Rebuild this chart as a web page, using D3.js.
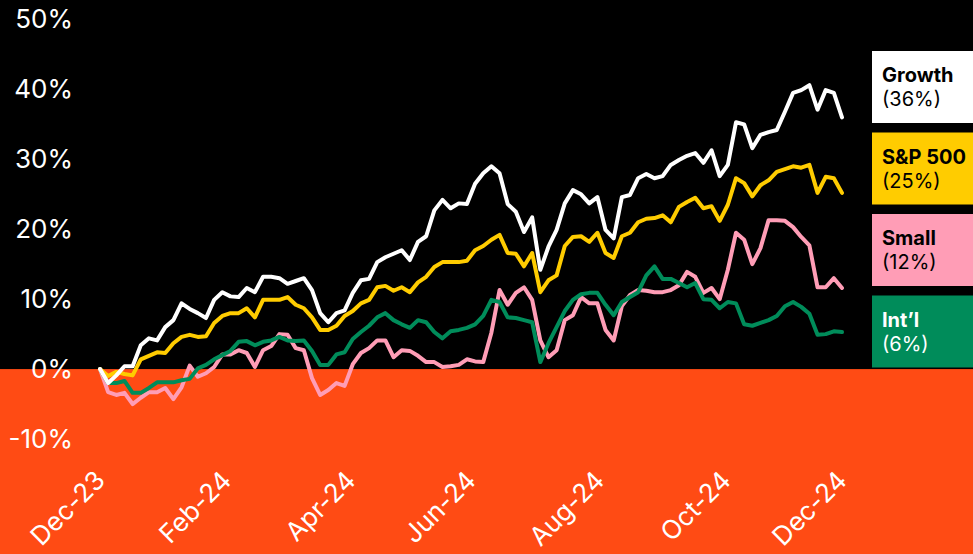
<!DOCTYPE html>
<html>
<head>
<meta charset="utf-8">
<script src="https://cdn.jsdelivr.net/npm/d3@7"></script>
<style>
  html, body { margin: 0; padding: 0; background: #000; }
  svg { display: block; }
  text { font-family: Inter, "Noto Sans", sans-serif; }
</style>
</head>
<body>
<svg id="chart"></svg>
<script>
// cumulative return, % since end of Dec-23, one reading every 4 calendar days
var startDate = new Date(2023, 11, 29);
var stepDays = 4;

var growth = [0,-2.0,-0.9,0.4,0.4,3.4,4.4,4.1,6.0,7.0,9.4,8.6,8.0,7.3,9.9,11.0,10.4,10.3,11.6,11.0,
  13.2,13.2,13.0,12.2,12.6,13.0,11.3,8.0,6.7,8.0,8.4,10.9,12.7,12.9,15.3,16.0,16.5,17.0,15.6,18.2,
  19.0,22.7,24.2,23.0,23.7,23.6,26.5,28.0,29.0,28.0,23.6,22.5,19.6,21.7,14.2,17.5,19.9,23.7,25.6,25.0,
  23.7,24.6,19.9,18.7,24.6,24.9,27.3,27.9,27.3,27.6,29.2,29.9,30.5,30.9,29.5,31.3,27.6,29.2,35.3,35.0,
  31.6,33.5,33.9,34.2,36.8,39.5,39.9,40.6,37.1,39.9,39.5,36.0];

var sp500 = [0,-1.0,-0.4,-0.7,-0.9,1.4,1.9,2.4,2.3,3.7,4.6,4.9,4.6,4.7,6.6,7.6,8.0,8.0,8.7,7.4,
  9.9,9.9,9.9,10.3,9.2,8.7,7.4,5.6,5.6,6.2,7.6,8.3,9.4,9.9,11.7,11.9,11.2,11.7,11.0,12.4,
  13.2,14.6,15.3,15.3,15.3,15.5,17.0,17.6,18.5,19.2,16.6,16.5,14.7,16.6,11.0,12.7,13.4,17.6,18.9,19.0,
  18.2,19.5,16.6,15.9,19.0,19.5,21.0,21.5,21.6,22.0,21.0,23.2,23.9,24.5,23.0,23.3,21.2,23.5,27.3,26.6,
  24.7,26.3,27.0,28.2,28.6,29.0,28.8,29.2,25.2,27.5,27.3,25.2];

var small = [0,-3.3,-3.7,-3.4,-5.0,-4.1,-3.3,-3.3,-2.7,-4.3,-2.6,0.5,-1.1,-0.6,0.3,2.1,2.1,2.7,2.3,0.3,
  2.7,3.3,5.0,4.9,3.0,2.7,-1.3,-3.7,-3.0,-2.0,-2.4,0.7,2.3,3.0,4.1,4.1,1.7,2.7,2.6,1.9,
  1.0,1.0,0.3,0.4,0.6,1.4,1.1,1.0,5.2,11.3,9.2,10.9,11.7,9.9,4.1,1.7,2.7,7.0,7.7,10.3,
  9.4,9.4,5.6,4.1,9.0,10.6,11.3,11.2,11.0,11.0,11.3,12.0,13.9,13.2,10.9,11.6,10.0,14.2,19.5,18.5,
  15.0,17.3,21.3,21.3,21.2,20.3,18.9,17.7,11.7,11.7,13.0,11.6];

var intl = [0,-2.0,-2.0,-1.7,-3.4,-3.4,-2.7,-1.9,-1.9,-1.9,-1.6,-1.4,0.1,0.6,1.4,2.0,2.6,3.9,4.0,3.4,
  3.9,4.1,4.6,4.1,4.0,4.1,2.6,0.6,0.6,2.1,2.4,4.3,5.3,6.2,7.4,8.0,7.0,6.4,5.9,7.0,
  6.7,5.3,4.4,5.4,5.6,5.9,6.4,7.6,9.9,9.6,7.4,7.3,7.0,6.7,1.0,3.7,6.0,8.3,9.9,10.7,
  10.9,10.9,9.2,7.7,9.6,10.3,11.0,13.4,14.7,12.9,12.9,12.3,11.7,12.3,10.0,9.9,8.7,9.6,9.4,6.4,
  6.2,6.6,7.0,7.6,9.0,9.6,8.9,7.9,4.9,5.0,5.4,5.3];

var seriesNames = ["Growth", "S&P 500", "Small", "Int\u2019l"];
var seriesLabels = ["(36%)", "(25%)", "(12%)", "(6%)"];
var seriesColors = ["#ffffff", "#ffcc00", "#ff9db6", "#008c5a"];
var labelColors = ["#000000", "#000000", "#000000", "#ffffff"];

var yTicks = [-10, 0, 10, 20, 30, 40, 50];
var xTickDates = ["2023-12-29", "2024-02-29", "2024-04-30", "2024-06-28", "2024-08-30", "2024-10-31", "2024-12-27"];

var width = 973, height = 554;
var orange = "#ff4b14";

var svg = d3.select("#chart").attr("width", width).attr("height", height);

var dates = growth.map(function(d, i) { return d3.timeDay.offset(startDate, i * stepDays); });

var x = d3.scaleTime()
    .domain([dates[0], dates[dates.length - 1]])
    .range([100, 842]);

var y = d3.scaleLinear()
    .domain([-10, 50])
    .range([439, 19.5]);

// background: black above zero, orange below
svg.append("rect")
    .attr("width", width).attr("height", height)
    .attr("fill", "#000");
svg.append("rect")
    .attr("x", 0).attr("y", y(0))
    .attr("width", width).attr("height", height - y(0))
    .attr("fill", orange);

// y axis
var yAxis = svg.append("g")
    .attr("transform", "translate(73,0)")
    .call(d3.axisLeft(y).tickValues(yTicks).tickSize(0).tickPadding(0)
      .tickFormat(function(d) { return d + "%"; }));
yAxis.select(".domain").remove();
yAxis.selectAll("text")
    .attr("fill", "#fff")
    .style("font-size", "26px");

// x axis, rotated labels
var parseDay = d3.timeParse("%Y-%m-%d");
var xAxis = svg.append("g")
    .attr("transform", "translate(6,482)")
    .call(d3.axisBottom(x).tickValues(xTickDates.map(parseDay)).tickSize(0)
      .tickFormat(d3.timeFormat("%b-%y")));
xAxis.select(".domain").remove();
xAxis.selectAll("text")
    .attr("x", 0).attr("y", 0).attr("dy", 0)
    .attr("text-anchor", "end")
    .attr("transform", "rotate(-45)")
    .attr("fill", "#fff")
    .style("font-size", "26px");

// lines
var allSeries = [growth, sp500, small, intl];
var line = d3.line()
    .x(function(d, i) { return x(dates[i]); })
    .y(function(d) { return y(d); });

var drawOrder = [2, 3, 1, 0];
drawOrder.forEach(function(k) {
  svg.append("path")
      .datum(allSeries[k])
      .attr("d", line)
      .attr("fill", "none")
      .attr("stroke", seriesColors[k])
      .attr("stroke-width", 4)
      .attr("stroke-linejoin", "round")
      .attr("stroke-linecap", "round");
});

// legend boxes on the right
var legend = svg.append("g").attr("transform", "translate(872,0)");
var entry = legend.selectAll("g")
    .data(seriesNames)
    .enter().append("g")
    .attr("transform", function(d, i) { return "translate(0," + (51 + i * 81.5) + ")"; });

entry.append("rect")
    .attr("width", width - 872)
    .attr("height", 72)
    .attr("fill", function(d, i) { return seriesColors[i]; });

entry.append("text")
    .attr("x", 10).attr("y", 31)
    .attr("fill", function(d, i) { return labelColors[i]; })
    .style("font-size", "20px")
    .style("font-weight", "700")
    .text(function(d) { return d; });

entry.append("text")
    .attr("x", 10).attr("y", 55)
    .attr("fill", function(d, i) { return labelColors[i]; })
    .style("font-size", "20px")
    .text(function(d, i) { return seriesLabels[i]; });
</script>
</body>
</html>
